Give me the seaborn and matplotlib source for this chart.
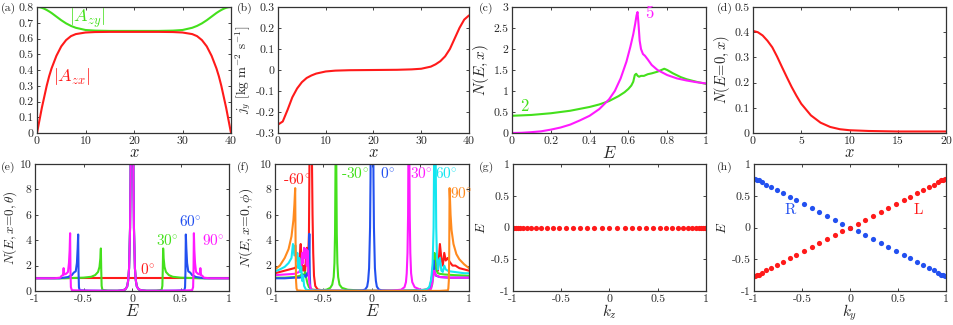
import matplotlib
matplotlib.use("Agg")
import matplotlib.pyplot as plt
from matplotlib.ticker import FuncFormatter
import seaborn as sns

# ---------------- data ----------------
# (a) order parameter components along x
a_x = [0, 0.5, 1, 1.5, 2, 2.5, 3, 4, 5, 6, 7, 8, 10, 12, 15, 20, 25, 28, 30, 32,
       33, 34, 35, 36, 37, 37.5, 38, 38.5, 39, 39.5, 40]
a_zx = [0, 0.08, 0.16, 0.23, 0.30, 0.36, 0.41, 0.49, 0.55, 0.59, 0.615, 0.628, 0.638,
        0.641, 0.642, 0.642, 0.642, 0.641, 0.638, 0.628, 0.615, 0.59, 0.55, 0.49, 0.41,
        0.36, 0.30, 0.23, 0.16, 0.08, 0]
a_zy = [0.800, 0.799, 0.795, 0.789, 0.781, 0.772, 0.762, 0.739, 0.716, 0.696, 0.680,
        0.668, 0.654, 0.650, 0.648, 0.648, 0.648, 0.650, 0.654, 0.668, 0.680, 0.696,
        0.716, 0.739, 0.762, 0.772, 0.781, 0.789, 0.795, 0.799, 0.800]

# (b) spin current
b_x = [0, 1, 2, 3, 4, 5, 6, 7, 8, 10, 12, 15, 20, 25, 28, 30, 32, 33, 34, 35, 36, 37, 38, 39, 40]
b_jy = [-0.260, -0.245, -0.190, -0.130, -0.088, -0.058, -0.038, -0.026, -0.017, -0.007,
        -0.003, -0.001, 0, 0.001, 0.003, 0.006, 0.016, 0.027, 0.042, 0.065, 0.100,
        0.150, 0.200, 0.240, 0.260]

# (c) LDOS at two positions
c_E2 = [0, 0.05, 0.1, 0.2, 0.3, 0.4, 0.45, 0.5, 0.55, 0.58, 0.6, 0.615, 0.625, 0.633,
        0.64, 0.648, 0.655, 0.665, 0.68, 0.7, 0.72, 0.75, 0.77, 0.785, 0.8, 0.83, 0.87,
        0.9, 0.95, 1.0]
c_N2 = [0.41, 0.42, 0.43, 0.47, 0.53, 0.62, 0.68, 0.76, 0.88, 0.97, 1.05, 1.13, 1.22,
        1.38, 1.41, 1.36, 1.34, 1.36, 1.36, 1.40, 1.42, 1.46, 1.50, 1.53, 1.50, 1.42,
        1.33, 1.28, 1.22, 1.17]
c_E5 = [0, 0.05, 0.1, 0.15, 0.2, 0.25, 0.3, 0.35, 0.4, 0.45, 0.5, 0.53, 0.56, 0.59,
        0.61, 0.625, 0.635, 0.642, 0.647, 0.652, 0.658, 0.665, 0.675, 0.685, 0.7, 0.72,
        0.75, 0.8, 0.85, 0.9, 0.95, 1.0]
c_N5 = [0.0, 0.005, 0.02, 0.04, 0.08, 0.13, 0.2, 0.3, 0.41, 0.57, 0.8, 1.0, 1.3, 1.7,
        2.05, 2.35, 2.6, 2.8, 2.88, 2.6, 2.2, 2.0, 1.88, 1.84, 1.75, 1.62, 1.5, 1.38,
        1.3, 1.25, 1.21, 1.18]

# (d) zero-energy LDOS along x
d_x = [0, 0.5, 1, 1.5, 2, 2.5, 3, 3.5, 4, 4.5, 5, 6, 7, 8, 9, 10, 12, 15, 20]
d_N = [0.405, 0.400, 0.387, 0.366, 0.340, 0.303, 0.262, 0.222, 0.183, 0.148, 0.116,
       0.070, 0.041, 0.024, 0.015, 0.011, 0.008, 0.006, 0.006]

# (e) LDOS at the edge for several theta
e0_E = [-1, -0.5, 0, 0.5, 1]
e0_N = [1, 1, 1, 1, 1]
e30_E = [-1, -0.7, -0.5, -0.42, -0.38, -0.35, -0.335, -0.326, -0.321, -0.317, -0.313,
         -0.305, -0.25, -0.15, -0.1, -0.07, -0.05, -0.04, -0.03, -0.02, -0.015, -0.008,
         0, 0.008, 0.015, 0.02, 0.03, 0.04, 0.05, 0.07, 0.1, 0.15, 0.25, 0.305, 0.313,
         0.317, 0.321, 0.326, 0.335, 0.35, 0.38, 0.42, 0.5, 0.7, 1]
e30_N = [1.0, 1.0, 1.05, 1.12, 1.25, 1.5, 1.9, 2.6, 3.35, 1.6, 0.4, 0.08, 0.03, 0.02,
         0.05, 0.12, 0.35, 0.8, 1.8, 5, 9, 22, 40, 22, 9, 5, 1.8, 0.8, 0.35, 0.12, 0.05,
         0.02, 0.03, 0.08, 0.4, 1.6, 3.35, 2.6, 1.9, 1.5, 1.25, 1.12, 1.05, 1.0, 1.0]
e60_E = [-1, -0.75, -0.7, -0.66, -0.62, -0.6, -0.58, -0.568, -0.56, -0.555, -0.551,
         -0.547, -0.54, -0.45, -0.3, -0.15, -0.1, -0.07, -0.05, -0.04, -0.03, -0.02,
         -0.015, -0.008, 0, 0.008, 0.015, 0.02, 0.03, 0.04, 0.05, 0.07, 0.1, 0.15, 0.3,
         0.45, 0.54, 0.547, 0.551, 0.555, 0.56, 0.568, 0.58, 0.6, 0.62, 0.66, 0.7, 0.75, 1]
e60_N = [1.0, 1.0, 1.05, 1.1, 1.25, 1.45, 1.55, 2.2, 3.4, 4.45, 1.5, 0.3, 0.06, 0.03,
         0.02, 0.02, 0.05, 0.12, 0.35, 0.8, 1.8, 5, 9, 22, 40, 22, 9, 5, 1.8, 0.8, 0.35,
         0.12, 0.05, 0.02, 0.02, 0.03, 0.06, 0.3, 1.5, 4.45, 3.4, 2.2, 1.55, 1.45, 1.25,
         1.1, 1.05, 1.0, 1.0]
e90_E = [-1, -0.8, -0.74, -0.725, -0.712, -0.705, -0.698, -0.68, -0.66, -0.65, -0.643,
         -0.638, -0.634, -0.63, -0.62, -0.5, -0.3, -0.15, -0.1, -0.07, -0.05, -0.04,
         -0.03, -0.02, -0.015, -0.008, 0, 0.008, 0.015, 0.02, 0.03, 0.04, 0.05, 0.07,
         0.1, 0.15, 0.3, 0.5, 0.62, 0.63, 0.634, 0.638, 0.643, 0.65, 0.66, 0.68, 0.698,
         0.705, 0.712, 0.725, 0.74, 0.8, 1]
e90_N = [1.0, 1.0, 1.05, 1.2, 1.25, 1.8, 1.3, 1.35, 1.5, 2.2, 3.2, 4.55, 1.5, 0.3,
         0.06, 0.03, 0.02, 0.02, 0.05, 0.12, 0.35, 0.8, 1.8, 5, 9, 22, 40, 22, 9, 5, 1.8,
         0.8, 0.35, 0.12, 0.05, 0.02, 0.02, 0.03, 0.06, 0.3, 1.5, 4.55, 3.2, 2.2, 1.5,
         1.35, 1.3, 1.8, 1.25, 1.2, 1.05, 1.0, 1.0]

# (f) LDOS at the edge for several phi
fm60_E = [-1, -0.9, -0.8, -0.76, -0.745, -0.735, -0.725, -0.71, -0.7, -0.69, -0.68,
          -0.672, -0.665, -0.658, -0.65, -0.643, -0.635, -0.628, -0.62, -0.613, -0.606,
          -0.598, -0.585, -0.56, -0.5, -0.3, 0, 0.3, 0.5, 0.58, 0.6, 0.62, 0.64, 0.66,
          0.68, 0.7, 0.715, 0.73, 0.745, 0.76, 0.78, 0.8, 0.83, 0.86, 0.9, 0.95, 1]
fm60_N = [1.4, 1.6, 1.8, 2.0, 2.8, 3.7, 2.2, 1.6, 2.0, 1.5, 2.6, 3.4, 2.0, 2.8, 4.5,
          12, 40, 25, 11, 6, 3, 1.2, 0.4, 0.12, 0.04, 0.02, 0.01, 0.02, 0.05, 0.15, 0.4,
          1.2, 2.0, 2.5, 1.6, 3.7, 2.6, 2.0, 3.0, 2.4, 2.6, 2.3, 2.0, 2.0, 1.8, 1.7, 1.6]
fm30_E = [-1, -0.9, -0.8, -0.74, -0.72, -0.7, -0.69, -0.68, -0.665, -0.65, -0.62,
          -0.55, -0.47, -0.43, -0.41, -0.395, -0.387, -0.381, -0.376, -0.372, -0.368,
          -0.363, -0.357, -0.349, -0.335, -0.31, -0.25, -0.1, 0.2, 0.5, 0.6, 0.62,
          0.635, 0.645, 0.655, 0.665, 0.68, 0.7, 0.75, 0.85, 1]
fm30_N = [1.05, 1.05, 1.1, 1.2, 1.35, 1.2, 1.5, 1.1, 0.6, 0.3, 0.12, 0.05, 0.1, 0.25,
          0.5, 1.1, 2.2, 4.5, 10, 40, 10, 4.5, 2.2, 1.1, 0.5, 0.25, 0.1, 0.03, 0.01,
          0.03, 0.1, 0.5, 1.5, 3.0, 2.0, 1.6, 1.4, 1.35, 1.3, 1.25, 1.2]
f0_E = [-1, -0.9, -0.8, -0.75, -0.72, -0.7, -0.685, -0.67, -0.66, -0.652, -0.646,
        -0.641, -0.636, -0.63, -0.6, -0.4, -0.15, -0.1, -0.07, -0.05, -0.04, -0.03,
        -0.02, -0.015, -0.008, 0, 0.008, 0.015, 0.02, 0.03, 0.04, 0.05, 0.07, 0.1, 0.15,
        0.4, 0.58, 0.6, 0.615, 0.625, 0.635, 0.645, 0.66, 0.7, 0.8, 0.9, 1]
f0_N = [1.0, 1.0, 1.05, 1.05, 1.1, 1.25, 1.1, 1.4, 1.2, 2.0, 4.5, 1.2, 0.3, 0.08, 0.02,
        0.01, 0.03, 0.05, 0.12, 0.35, 0.8, 1.8, 5, 9, 22, 40, 22, 9, 5, 1.8, 0.8, 0.35,
        0.12, 0.05, 0.03, 0.01, 0.05, 0.3, 1.0, 1.6, 2.4, 1.5, 1.2, 1.1, 1.05, 1.05, 1.05]
f30_E = [-1, -0.9, -0.8, -0.75, -0.73, -0.72, -0.71, -0.7, -0.69, -0.68, -0.672,
         -0.665, -0.655, -0.645, -0.63, -0.6, -0.3, 0, 0.2, 0.3, 0.335, 0.35, 0.358,
         0.366, 0.372, 0.376, 0.38, 0.384, 0.389, 0.395, 0.403, 0.415, 0.44, 0.5, 0.58,
         0.61, 0.625, 0.64, 0.655, 0.67, 0.7, 0.8, 0.9, 1]
f30_N = [1.25, 1.3, 1.35, 1.5, 1.9, 3.0, 2.2, 3.4, 2.6, 3.3, 2.0, 3.2, 1.5, 0.6, 0.15,
         0.04, 0.01, 0.01, 0.03, 0.1, 0.3, 0.7, 1.4, 3, 6, 12, 40, 12, 6, 3, 1.4, 0.7,
         0.3, 0.1, 0.05, 0.2, 0.8, 1.6, 1.3, 1.2, 1.1, 1.05, 1.05, 1.05]
f60_E = [-1, -0.95, -0.9, -0.86, -0.83, -0.815, -0.8, -0.79, -0.78, -0.77, -0.76,
         -0.75, -0.74, -0.73, -0.72, -0.71, -0.7, -0.68, -0.6, -0.3, 0, 0.3, 0.5, 0.56,
         0.59, 0.61, 0.625, 0.635, 0.642, 0.648, 0.655, 0.662, 0.67, 0.68, 0.69, 0.7,
         0.715, 0.73, 0.745, 0.76, 0.78, 0.8, 0.85, 0.9, 0.95, 1]
f60_N = [1.55, 1.7, 1.9, 2.2, 2.6, 3.7, 2.8, 3.6, 2.4, 3.0, 1.8, 2.6, 1.5, 1.9, 0.8,
         1.2, 0.4, 0.1, 0.03, 0.01, 0.01, 0.01, 0.04, 0.12, 0.3, 0.9, 2.2, 5, 12, 40,
         12, 5, 2.5, 1.7, 2.4, 2.6, 1.6, 1.5, 2.0, 1.7, 1.6, 1.55, 1.5, 1.45, 1.4, 1.4]
f90_E = [-1, -0.95, -0.9, -0.86, -0.83, -0.81, -0.8, -0.792, -0.787, -0.783, -0.778,
         -0.77, -0.7, 0, 0.7, 0.782, 0.787, 0.792, 0.796, 0.8, 0.81, 0.82, 0.84, 0.87,
         0.9, 0.95, 1]
f90_N = [1.7, 2.0, 2.6, 3.3, 4.3, 5.6, 6.8, 8.1, 3.0, 0.8, 0.2, 0.05, 0.01, 0.01, 0.01,
         0.05, 0.2, 0.8, 3.0, 8.1, 6.0, 4.8, 3.7, 2.9, 2.5, 2.1, 1.8]

# (g) flat band vs kz
g_kz = [-0.998, -0.988, -0.974, -0.953, -0.929, -0.897, -0.859, -0.814, -0.766, -0.71,
        -0.651, -0.589, -0.523, -0.454, -0.381, -0.308, -0.232, -0.156, -0.08, 0, 0.08,
        0.156, 0.232, 0.308, 0.381, 0.454, 0.523, 0.589, 0.651, 0.71, 0.766, 0.814,
        0.859, 0.897, 0.929, 0.953, 0.974, 0.988, 0.998]
g_E = [0] * 39

# (h) chiral edge modes vs ky
h_ky = [-0.99, -0.97, -0.95, -0.92, -0.87, -0.82, -0.76, -0.70, -0.63, -0.56, -0.48,
        -0.40, -0.32, -0.24, -0.16, -0.08, 0, 0.08, 0.16, 0.24, 0.32, 0.40, 0.48, 0.56,
        0.63, 0.70, 0.76, 0.82, 0.87, 0.92, 0.95, 0.97, 0.99]
h_EL = [-0.765, -0.755, -0.745, -0.715, -0.67, -0.63, -0.585, -0.54, -0.485, -0.43,
        -0.37, -0.31, -0.245, -0.185, -0.125, -0.06, 0, 0.06, 0.125, 0.185, 0.245, 0.31,
        0.37, 0.43, 0.485, 0.54, 0.585, 0.63, 0.67, 0.715, 0.745, 0.755, 0.765]
h_ER = [0.765, 0.755, 0.745, 0.715, 0.67, 0.63, 0.585, 0.54, 0.485, 0.43, 0.37, 0.31,
        0.245, 0.185, 0.125, 0.06, 0, -0.06, -0.125, -0.185, -0.245, -0.31, -0.37, -0.43,
        -0.485, -0.54, -0.585, -0.63, -0.67, -0.715, -0.745, -0.755, -0.765]

RED = "#ff1a1a"
GREEN = "#44e01c"
MAGENTA = "#ff1aff"
BLUE = "#2250f0"
CYAN = "#14e6f0"
ORANGE = "#ff8a1e"

# ---------------- style ----------------
sns.set_style("ticks")
plt.rcParams.update({
    "font.family": ["cmr10", "DejaVu Serif"],
    "mathtext.fontset": "cm",
    "axes.unicode_minus": False,
    "axes.linewidth": 0.9,
    "axes.edgecolor": "#333333",
    "xtick.direction": "in",
    "ytick.direction": "in",
    "xtick.top": True,
    "ytick.right": True,
    "xtick.major.size": 2.5,
    "ytick.major.size": 2.5,
    "xtick.major.width": 0.6,
    "ytick.major.width": 0.6,
    "xtick.labelsize": 8.5,
    "ytick.labelsize": 8.5,
})

W, H = 954, 325
fig = plt.figure(figsize=(W / 100, H / 100), dpi=100)


def make_ax(left, top, right, bottom):
    return fig.add_axes([left / W, 1 - bottom / H, (right - left) / W, (bottom - top) / H])


fmt = FuncFormatter(lambda v, p: "%g" % round(v, 3))


def style(ax, xlim, ylim, xticks, yticks, xlabel, ylabel, xfs=12, yfs=11, ypad=2):
    ax.set_xlim(xlim)
    ax.set_ylim(ylim)
    ax.set_xticks(xticks)
    ax.set_yticks(yticks)
    ax.xaxis.set_major_formatter(fmt)
    ax.yaxis.set_major_formatter(fmt)
    ax.tick_params(axis="x", pad=2.5)
    ax.tick_params(axis="y", pad=2.5)
    ax.set_xlabel(xlabel, fontsize=xfs, labelpad=-1)
    ax.set_ylabel(ylabel, fontsize=yfs, labelpad=ypad)


def line(ax, x, y, color, lw=1.5):
    sns.lineplot(x=x, y=y, ax=ax, color=color, lw=lw, sort=False, estimator=None)


# ---------------- top row ----------------
ax = make_ax(37, 7, 231, 133)
line(ax, a_x, a_zy, GREEN)
line(ax, a_x, a_zx, RED)
style(ax, (0, 40), (0, 0.8), [0, 10, 20, 30, 40], [i / 10 for i in range(9)], "$x$", "")
ax.text(6.5, 0.727, "$|A_{zy}|$", color=GREEN, fontsize=13, va="center")
ax.text(3.4, 0.356, "$|A_{zx}|$", color=RED, fontsize=13, va="center")

ax = make_ax(278, 7, 469, 133)
line(ax, b_x, b_jy, RED)
style(ax, (0, 40), (-0.3, 0.3), [0, 10, 20, 30, 40],
      [-0.3, -0.2, -0.1, 0, 0.1, 0.2, 0.3], "$x$",
      "$j_y$ [kg m$^{-2}$ s$^{-1}$]", yfs=9.5)

ax = make_ax(512, 7, 706, 133)
line(ax, c_E2, c_N2, GREEN)
line(ax, c_E5, c_N5, MAGENTA)
style(ax, (0, 1), (0, 3), [0, 0.2, 0.4, 0.6, 0.8, 1], [0, 0.5, 1, 1.5, 2, 2.5, 3],
      "$E$", "$N(E,x)$")
ax.text(0.04, 0.63, "2", color=GREEN, fontsize=12, va="center")
ax.text(0.685, 2.84, "5", color=MAGENTA, fontsize=12, va="center")

ax = make_ax(753, 7, 946, 133)
line(ax, d_x, d_N, RED)
style(ax, (0, 20), (0, 0.5), [0, 5, 10, 15, 20], [0, 0.1, 0.2, 0.3, 0.4, 0.5],
      "$x$", "$N(E\\!=\\!0,x)$", yfs=10.5)

# ---------------- bottom row ----------------
ax = make_ax(35, 164, 229, 291)
line(ax, e0_E, e0_N, RED)
line(ax, e30_E, e30_N, GREEN)
line(ax, e60_E, e60_N, BLUE)
line(ax, e90_E, e90_N, MAGENTA)
style(ax, (-1, 1), (0, 10), [-1, -0.5, 0, 0.5, 1], [0, 2, 4, 6, 8, 10],
      "$E$", "$N(E,x\\!=\\!0,\\theta)$", yfs=9.5, ypad=0.5)
ax.text(0.16, 1.7, "$0^{\\circ}$", color=RED, fontsize=11, ha="center", va="center")
ax.text(0.36, 4.0, "$30^{\\circ}$", color=GREEN, fontsize=11, ha="center", va="center")
ax.text(0.6, 5.5, "$60^{\\circ}$", color=BLUE, fontsize=11, ha="center", va="center")
ax.text(0.84, 4.0, "$90^{\\circ}$", color=MAGENTA, fontsize=11, ha="center", va="center")

ax = make_ax(275, 164, 469, 291)
line(ax, fm60_E, fm60_N, RED)
line(ax, fm30_E, fm30_N, GREEN)
line(ax, f0_E, f0_N, BLUE)
line(ax, f30_E, f30_N, MAGENTA)
line(ax, f60_E, f60_N, CYAN)
line(ax, f90_E, f90_N, ORANGE)
style(ax, (-1, 1), (0, 10), [-1, -0.5, 0, 0.5, 1], [0, 2, 4, 6, 8, 10],
      "$E$", "$N(E,x\\!=\\!0,\\phi)$", yfs=10, ypad=3)
for tx, ty, s, c in [(-0.77, 8.75, "-60", RED), (-0.18, 9.25, "-30", GREEN),
                     (0.16, 9.25, "0", BLUE), (0.51, 9.25, "30", MAGENTA),
                     (0.77, 9.25, "60", CYAN), (0.92, 7.7, "90", ORANGE)]:
    ax.text(tx, ty, s + "$^{\\circ}$", color=c, fontsize=11, ha="center", va="center")

ax = make_ax(513, 164, 706, 291)
sns.scatterplot(x=g_kz, y=g_E, ax=ax, color=RED, s=14, linewidth=0)
style(ax, (-1, 1), (-1, 1), [-1, -0.5, 0, 0.5, 1], [-1, -0.5, 0, 0.5, 1],
      "$k_z$", "$E$", xfs=11, yfs=9.5)

ax = make_ax(754, 164, 946, 291)
sns.scatterplot(x=h_ky, y=h_ER, ax=ax, color=BLUE, s=14, linewidth=0)
sns.scatterplot(x=h_ky, y=h_EL, ax=ax, color=RED, s=14, linewidth=0)
style(ax, (-1, 1), (-1, 1), [-1, -0.5, 0, 0.5, 1], [-1, -0.5, 0, 0.5, 1],
      "$k_y$", "$E$", xfs=11, yfs=9.5)
ax.text(-0.62, 0.27, "R", color=BLUE, fontsize=11, ha="center", va="center")
ax.text(0.71, 0.27, "L", color=RED, fontsize=11, ha="center", va="center")

# panel tags
for tag, px, py in [("(a)", 1, 8), ("(b)", 237, 8), ("(c)", 479, 8), ("(d)", 717, 8),
                    ("(e)", 1, 167), ("(f)", 237, 167), ("(g)", 479, 167), ("(h)", 717, 167)]:
    fig.text(px / W, 1 - py / H, tag, fontsize=8.5, ha="left", va="center")

fig.savefig("out.png", dpi=100)
